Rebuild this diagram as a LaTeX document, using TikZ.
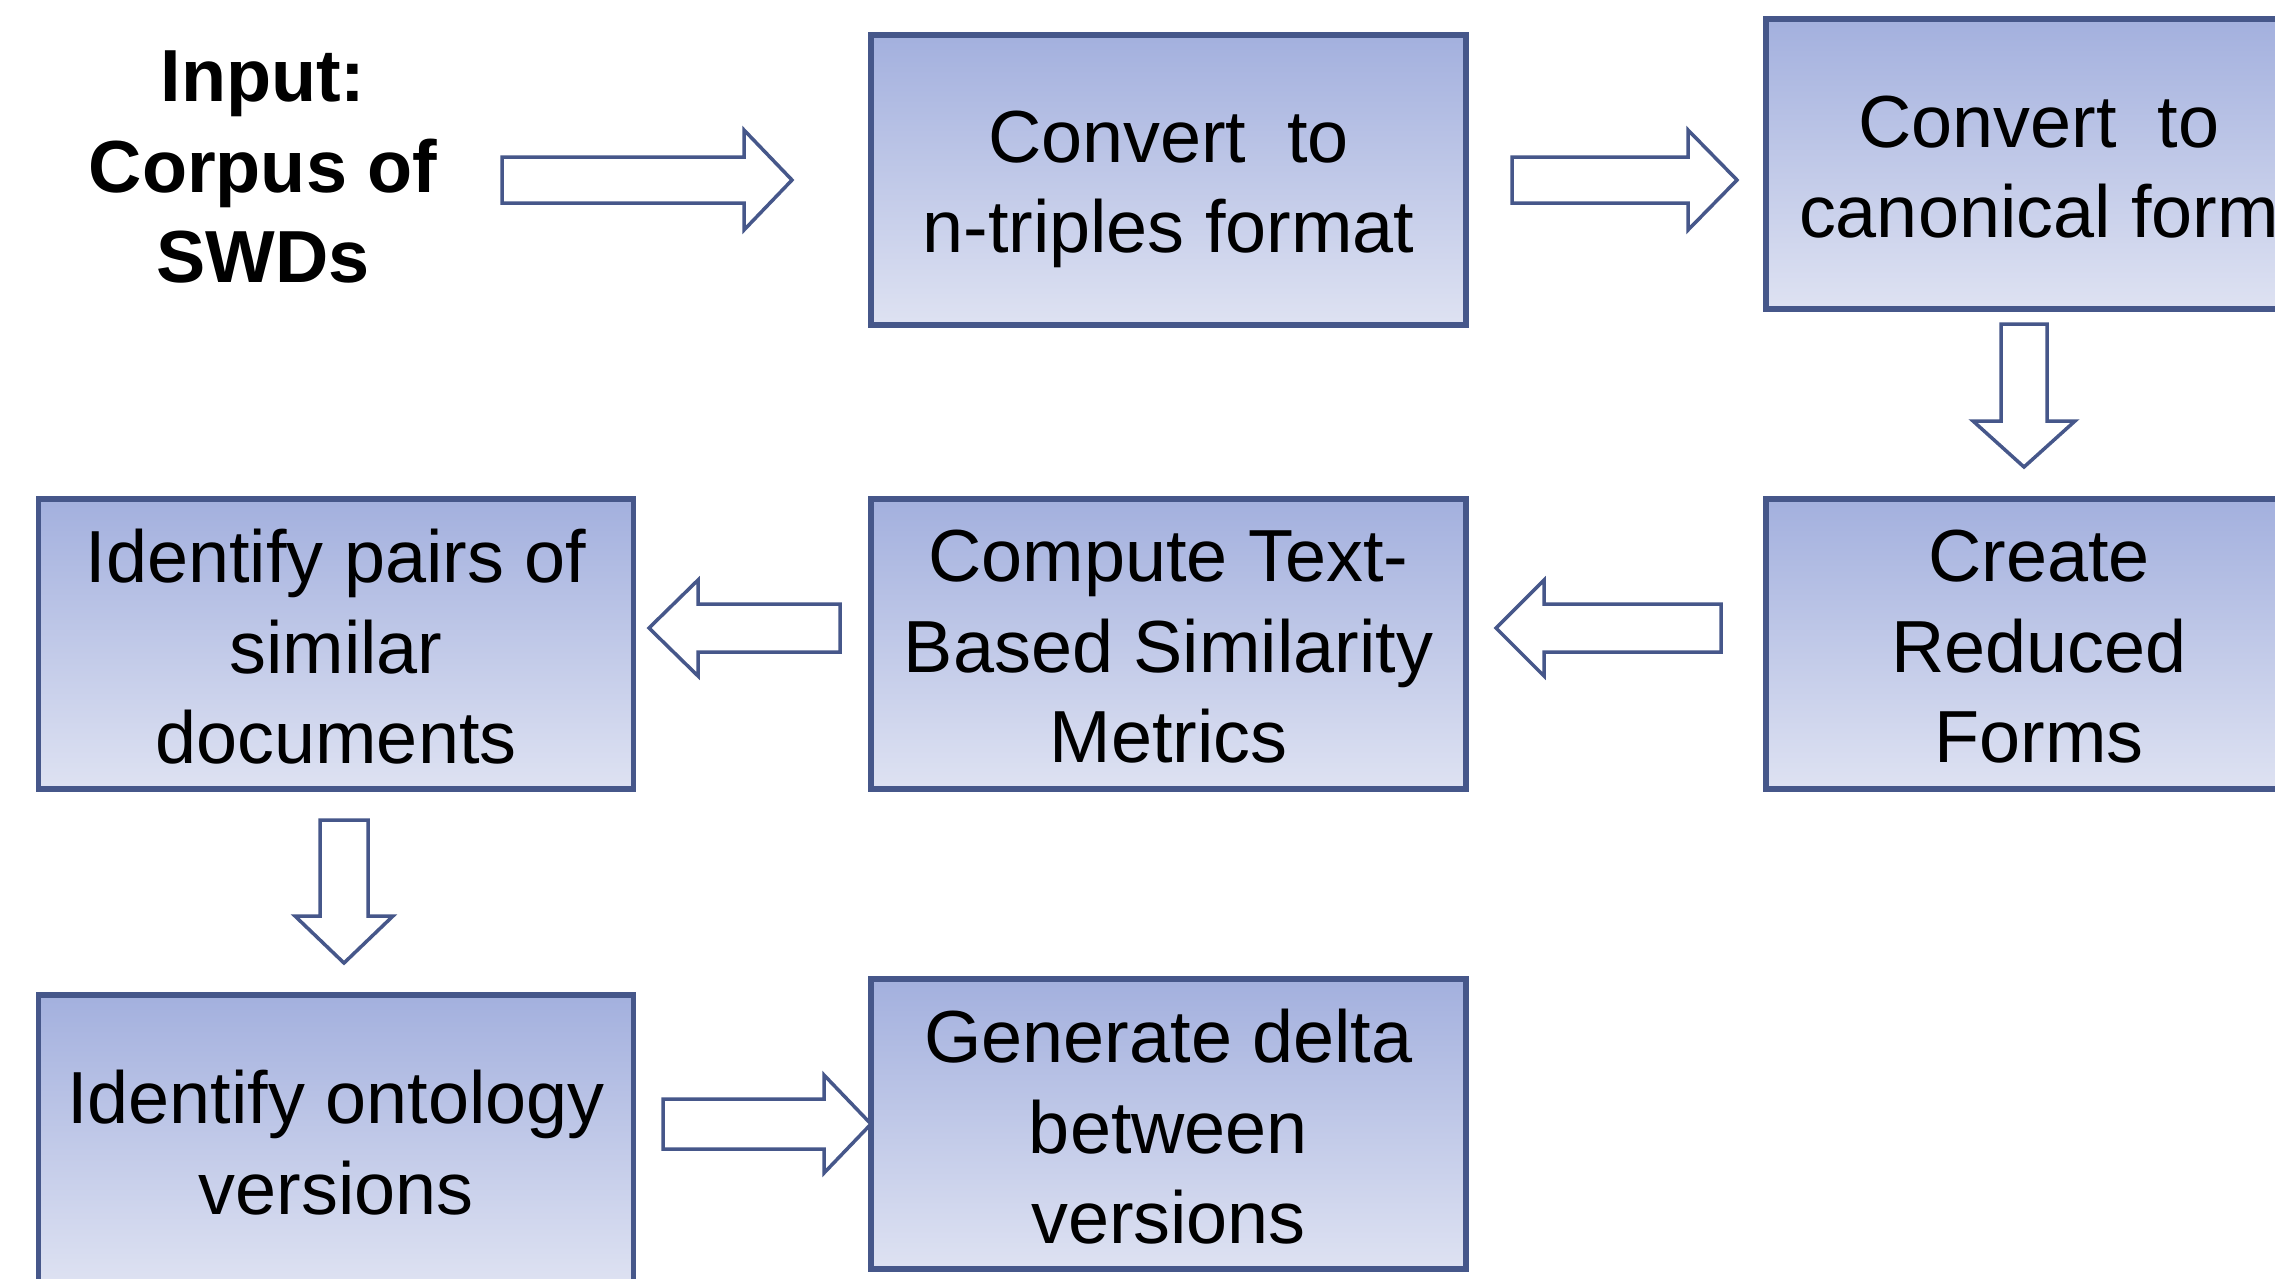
\documentclass[tikz,border=0pt]{standalone}
\usepackage{fontspec}
\setmainfont{Liberation Sans}
\definecolor{edge}{RGB}{70,87,138}
\definecolor{filltop}{RGB}{163,176,222}
\definecolor{fillbot}{RGB}{222,226,242}
\tikzset{
  procbox/.style={rectangle, draw=edge, line width=1.7mm, top color=filltop, bottom color=fillbot,
    minimum width=178.5mm, minimum height=87mm, inner sep=0pt},
  boxtext/.style={align=center, inner sep=0pt, font=\fontsize{63}{77}\selectfont},
  arrowline/.style={draw=edge, fill=white, line width=1.05mm, line join=miter},
  pics/blockarrow/.style n args={4}{code={
    \draw[arrowline] (0,-#3) -- ({#1-#2},-#3) -- ({#1-#2},-#4) -- (#1,0) -- ({#1-#2},#4) -- ({#1-#2},#3) -- (0,#3) -- cycle;
  }}
}
\begin{document}
\begin{tikzpicture}[x=0.3mm,y=-0.3mm]
\useasboundingbox (0,0) rectangle (2275,1278);
\clip (0,0) rectangle (2275,1278);
\fill[white] (0,0) rectangle (2275,1278);

\node[align=center, font=\bfseries\fontsize{63}{77}\selectfont] (in) at (263,167) {Input:\\Corpus of\\SWDs};

\node[procbox] (b1) at (1168.5,180) {};
\node[procbox, minimum width=163.8mm] (b2) at (2039,164) {};
\node[procbox, minimum width=163.8mm] (b3) at (2039,644) {};
\node[procbox] (b4) at (1168.5,644) {};
\node[procbox] (b5) at (336,644) {};
\node[procbox] (b6) at (336,1140) {};
\node[procbox] (b7) at (1168.5,1124) {};

\node[boxtext] (t1) at ([yshift=-2.7mm]b1.center) {Convert\ \ to\\n-triples format};
\node[boxtext] (t2) at ([yshift=-1mm]b2.center) {Convert\ \ to\\canonical form};
\node[boxtext] (t3) at ([yshift=-0.8mm]b3.center) {Create\\Reduced\\Forms};
\node[boxtext] (t4) at ([yshift=-0.8mm]b4.center) {Compute Text-\\Based Similarity\\Metrics};
\node[boxtext] (t5) at ([yshift=-0.8mm]b5.center) {Identify pairs of\\similar\\documents};
\node[boxtext] (t6) at ([yshift=-0.8mm]b6.center) {Identify ontology\\versions};
\node[boxtext] (t7) at ([yshift=-0.8mm]b7.center) {Generate delta\\between\\versions};

% block arrows
\coordinate (a1) at (502,180);
\coordinate (a2) at (1512,180);
\coordinate (a3) at (2024,324);
\coordinate (a4) at (1721,628);
\coordinate (a5) at (840,628);
\coordinate (a6) at (344,820);
\coordinate (a7) at (663,1124);
\pic at (a1) {blockarrow={290}{48}{23}{50}};
\pic at (a2) {blockarrow={225}{49}{23}{50}};
\pic[rotate=-90] at (a3) {blockarrow={143}{46}{23}{51}};
\pic[rotate=180] at (a4) {blockarrow={225}{48}{24}{48}};
\pic[rotate=180] at (a5) {blockarrow={191}{49}{24}{48}};
\pic[rotate=-90] at (a6) {blockarrow={143}{47}{24}{49}};
\pic at (a7) {blockarrow={208}{47}{25}{49}};
\end{tikzpicture}
\end{document}
